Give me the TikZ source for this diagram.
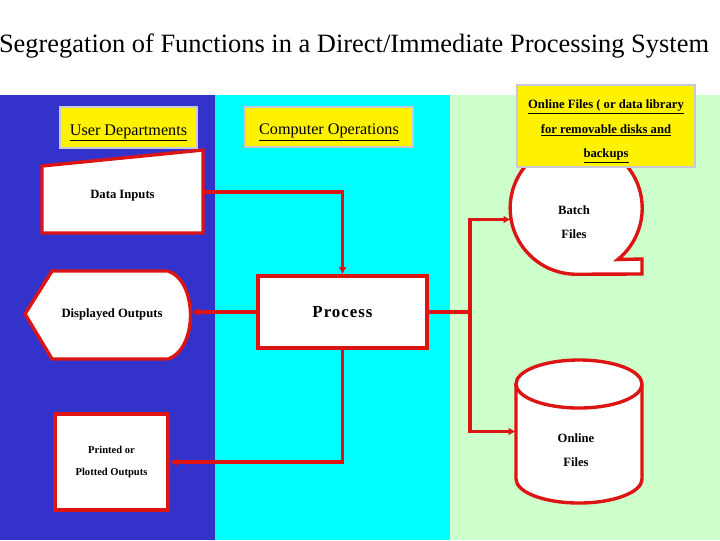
\documentclass[tikz,border=0pt]{standalone}
\usepackage{fontspec}
\setmainfont{Liberation Serif}
\usetikzlibrary{arrows.meta,positioning,shapes.geometric}

\definecolor{deptblue}{RGB}{51,51,204}
\definecolor{opscyan}{RGB}{0,255,255}
\definecolor{libgreen}{RGB}{204,255,204}
\definecolor{flowred}{RGB}{220,20,20}
\definecolor{hdgrey}{RGB}{200,200,215}

\begin{document}
\begin{tikzpicture}[x=0.025cm,y=-0.025cm,>=Latex,
  hdbox/.style={draw=hdgrey,line width=2pt,fill=yellow,inner sep=2pt,align=center},
  sym/.style={draw=flowred,line width=2.4pt,fill=white},
  lbl/.style={font=\bfseries\fontsize{9}{17}\selectfont,align=center},
  flow/.style={draw=flowred,line width=2.6pt,-{Latex[length=1.8mm,width=2mm]}}]
\useasboundingbox (0,0) rectangle (720,540);
% the three columns
\fill[white] (0,0) rectangle (720,540);
\fill[deptblue] (0,95) rectangle (215,540);
\fill[opscyan] (215,95) rectangle (450,540);
\fill[libgreen] (450,95) rectangle (720,540);
\node[font=\fontsize{18.8}{22}\selectfont] (title) at (354,46) {Segregation of Functions in a Direct/Immediate Processing System};

% user departments
\filldraw[sym] (42,166) -- (203,150) -- (203,233) -- (42,233) -- cycle;
\node[lbl,minimum width=4.025cm,minimum height=2.075cm,text height=9pt,text depth=0pt] (din) at (122.5,192) {Data Inputs};
\filldraw[sym] (25,314) -- (52,271) -- (168,271) .. controls (198,281) and (198,349) .. (168,359) -- (52,359) -- cycle;
\node[lbl,minimum width=3.95cm,minimum height=2.2cm] (dout) at (112,314) {Displayed Outputs};
\node[sym,lbl,minimum width=2.825cm,minimum height=2.4cm,font=\bfseries\fontsize{7.5}{16}\selectfont] (pout) at (111.5,462) {Printed or\\Plotted Outputs};

% computer operations
\node[sym,minimum width=4.225cm,minimum height=1.8cm,font=\bfseries\fontsize{12}{14}\selectfont\addfontfeatures{LetterSpace=6}] (proc) at (342.5,312) {Process};

% online files
\node[circle,minimum size=3.3cm,inner sep=0pt] (batch) at (576,208) {};
\filldraw[sym] (batch.-51) arc[start angle=-51,end angle=270,radius=1.65cm] -- (642,274) -- (642,259) -- cycle;
\node[lbl] (batch_txt) at (574,222) {Batch\\Files};
\node[minimum width=3.15cm,minimum height=3.575cm,inner sep=0pt] (onl) at (579,431.5) {};
\filldraw[sym] (516,384) -- (516,479) arc[start angle=180,end angle=360,x radius=1.575cm,y radius=0.6cm] -- (642,384) arc[start angle=0,end angle=180,x radius=1.575cm,y radius=0.6cm] -- cycle;
\draw[sym,fill=none] (516,384) arc[start angle=180,end angle=360,x radius=1.575cm,y radius=0.6cm];
\node[lbl] (onl_txt) at (576,450) {Online\\Files};

% flows
\draw[flow] (din.east) -| (proc.north);
\draw[flow] (proc.west) -- (proc.west -| dout.east);
\draw[flow] (proc.south) |- (pout.east);
\coordinate (split) at (470,312);
\draw[draw=flowred,line width=2.6pt] (proc.east) -- (split);
\draw[flow] (split) |- (batch.190);
\draw[flow] (split) |- (onl.west);

% column headings
\node[hdbox,minimum width=3.425cm,minimum height=1.025cm,text height=12pt,text depth=1pt,font=\fontsize{11.5}{14}\selectfont] (hd_user) at (128.5,127.5) {\underline{User Departments}};
\node[hdbox,minimum width=4.2cm,minimum height=1cm,text height=12pt,text depth=1pt,font=\fontsize{11.5}{14}\selectfont] (hd_ops) at (329,127) {\underline{Computer Operations}};
\node[hdbox,minimum width=4.45cm,minimum height=2.05cm,font=\bfseries\fontsize{9}{17.4}\selectfont] (hd_lib) at (606,126) {\rule{0pt}{14pt}\underline{Online Files ( or data library}\\\underline{for removable disks and}\\\underline{backups}};
\end{tikzpicture}
\end{document}
